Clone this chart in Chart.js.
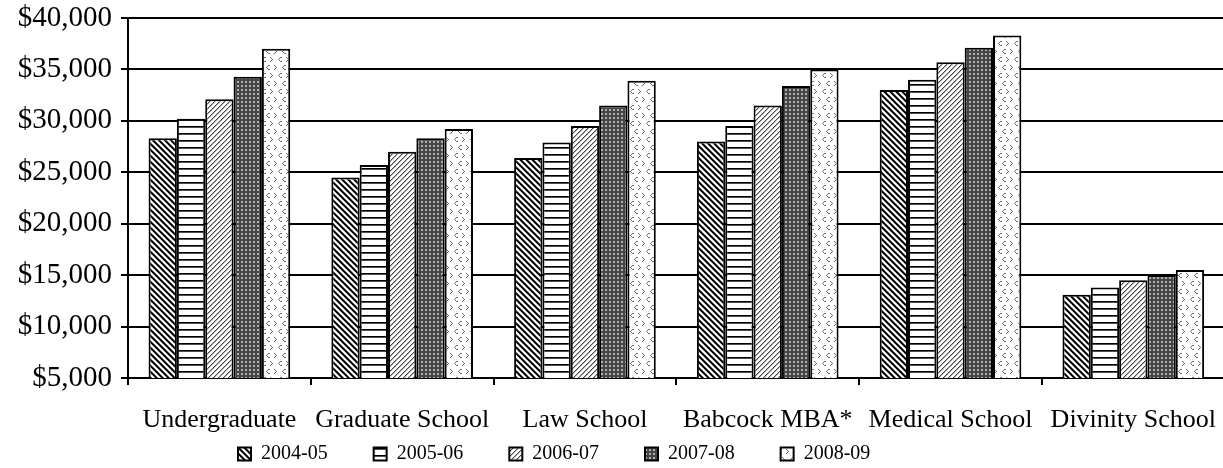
<!DOCTYPE html>
<html>
<head>
<meta charset="utf-8">
<script src="https://cdn.jsdelivr.net/npm/chart.js@4.4.1/dist/chart.umd.min.js"></script>
<style>
html,body{margin:0;padding:0;overflow:hidden;background:#fff;}
#wrap{width:1236px;height:468px;position:relative;}
</style>
</head>
<body>
<div id="wrap"><canvas id="c"></canvas></div>
<script>
// ---- data ----
const categories = ['Undergraduate', 'Graduate School', 'Law School', 'Babcock MBA*', 'Medical School', 'Divinity School'];
const seriesNames = ['2004-05', '2005-06', '2006-07', '2007-08', '2008-09'];
const tuition2004_05 = [28300, 24500, 26400, 28000, 33000, 13100];
const tuition2005_06 = [30200, 25700, 27900, 29500, 34000, 13800];
const tuition2006_07 = [32100, 27000, 29500, 31500, 35700, 14500];
const tuition2007_08 = [34300, 28300, 31500, 33400, 37100, 15000];
const tuition2008_09 = [37000, 29200, 33900, 35000, 38300, 15500];
const yMin = 5000, yMax = 40000, yStep = 5000;

// ---- patterns ----
const canvas = document.getElementById('c');
const mainCtx = canvas.getContext('2d');
function makePattern(w, h, fn) {
  const c = document.createElement('canvas');
  c.width = w; c.height = h;
  const cx = c.getContext('2d');
  const img = cx.createImageData(w, h);
  for (let y = 0; y < h; y++) {
    for (let x = 0; x < w; x++) {
      const g = fn(x, y);
      const i = (y * w + x) * 4;
      img.data[i] = g; img.data[i + 1] = g; img.data[i + 2] = g; img.data[i + 3] = 255;
    }
  }
  cx.putImageData(img, 0, 0);
  return mainCtx.createPattern(c, 'repeat');
}
const pat1 = makePattern(6, 6, (x, y) => { const d = ((x - y) % 6 + 6) % 6; return d < 2 ? 0 : (d === 2 ? 100 : (d === 5 ? 190 : 255)); });
const pat2 = makePattern(1, 7, (x, y) => { const d = y % 7; return d === 0 ? 0 : (d === 1 ? 80 : 255); });
const pat3 = makePattern(5, 5, (x, y) => { const d = (x + y) % 5; return d === 0 ? 70 : (d === 1 ? 180 : 255); });
const pat4 = makePattern(4, 4, (x, y) => ((x % 4 === 1 || x % 4 === 2) && (y % 4 === 1 || y % 4 === 2)) ? 175 : 70);
const chevL = [[2,0],[1,1],[0,2],[1,3],[2,4],[3,0],[3,4]];
const chevR = [[0,0],[1,1],[2,2],[1,3],[0,4]];
const pat5 = makePattern(16, 16, (x, y) => {
  const marks = [[chevR, 2, 1], [chevL, 10, 1], [chevL, 6, 9], [chevR, 14, 9]];
  for (const [m, ox, oy] of marks) {
    for (const [px, py] of m) { if (((ox + px) % 16) === x && y === oy + py) return 110; }
  }
  return 255;
});
const patterns = [pat1, pat2, pat3, pat4, pat5];
const seriesValues = [tuition2004_05, tuition2005_06, tuition2006_07, tuition2007_08, tuition2008_09];

// ---- layout helpers ----
const legendStartX = 238;
const legendItemTop = 444;
const legendBandHeight = 32;
const legendShift = {
  id: 'legendShift',
  beforeLayout(chart) {
    const lg = chart.legend;
    if (lg && !lg._fitPatched) {
      const orig = lg.fit;
      lg.fit = function () { orig.call(this); this.height = legendBandHeight; };
      lg._fitPatched = true;
    }
  },
  afterLayout(chart) {
    const lg = chart.legend;
    if (!lg || !lg.lineWidths) return;
    const pad = lg.options.labels.padding;
    const x0 = (lg.left + pad + lg.right - lg.lineWidths[0]) / 2;
    const dx = legendStartX - x0;
    lg.left += dx; lg.right += dx;
    lg.top = legendItemTop - pad;
    lg.bottom = chart.height;
    lg.height = lg.bottom - lg.top;
  }
};

Chart.defaults.font.family = "'Liberation Serif', 'Times New Roman', serif";
Chart.defaults.font.size = 26;
Chart.defaults.color = '#000';

new Chart(canvas, {
  type: 'bar',
  data: {
    labels: categories,
    datasets: seriesNames.map((name, i) => ({
      label: name,
      data: seriesValues[i],
      backgroundColor: patterns[i],
      borderColor: '#000',
      borderWidth: 2,
      borderSkipped: 'start',
      barPercentage: 1.0,
      categoryPercentage: 0.775
    }))
  },
  options: {
    responsive: true,
    maintainAspectRatio: false,
    animation: false,
    devicePixelRatio: 1,
    layout: { padding: { top: 18, left: 0, right: 0, bottom: 0 } },
    plugins: {
      tooltip: { enabled: false },
      legend: {
        position: 'bottom',
        labels: {
          boxWidth: 13,
          boxHeight: 13,
          padding: 46,
          font: { size: 20 },
          color: '#000'
        }
      }
    },
    scales: {
      x: {
        offset: true,
        afterFit(scale) { scale.height = 58; },
        grid: { offset: true, drawOnChartArea: false, drawTicks: true, tickLength: 7, color: '#000', lineWidth: 2 },
        border: { color: '#000', width: 2 },
        ticks: { padding: 20, maxRotation: 0, autoSkip: false, font: { size: 26 }, color: '#000' }
      },
      y: {
        min: yMin,
        max: yMax,
        afterFit(scale) { scale.width = 128; scale.paddingTop = 0; scale.paddingBottom = 0; },
        ticks: {
          stepSize: yStep,
          padding: 9,
          font: { size: 29 },
          color: '#000',
          callback: (v) => '$' + Number(v).toLocaleString('en-US')
        },
        grid: { color: '#000', lineWidth: 2, tickLength: 7, drawTicks: true },
        border: { color: '#000', width: 2 }
      }
    }
  },
  plugins: [legendShift]
});
</script>
</body>
</html>
